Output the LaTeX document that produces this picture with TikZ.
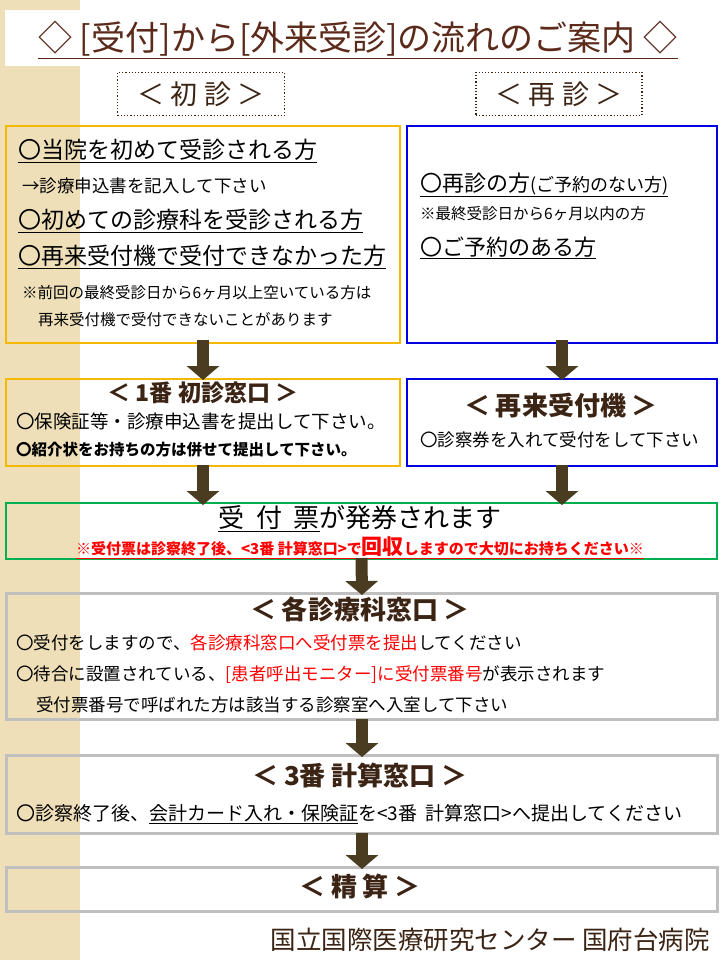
\documentclass[tikz,border=0pt]{standalone}
\usepackage{fontspec}
\setmainfont{Noto Sans CJK JP}
\usetikzlibrary{arrows.meta,positioning}
\definecolor{titlebrown}{HTML}{5C2A1A}
\definecolor{headbrown}{HTML}{3C2414}
\definecolor{arrowbrown}{HTML}{4A3C20}
\definecolor{boxyellow}{HTML}{F5B800}
\definecolor{boxblue}{HTML}{0000E0}
\definecolor{boxgreen}{HTML}{00B050}
\definecolor{boxgray}{HTML}{BFBFBF}
\definecolor{beige}{HTML}{EEDFB8}
\newcommand{\fs}[1]{\fontsize{#1}{#1}\selectfont}
\newcommand{\ul}[1]{\underline{#1}}

\begin{document}
\begin{tikzpicture}[x=1pt,y=-1pt,
  txt/.style={anchor=west,inner sep=0pt,text=black},
  head/.style={inner sep=0pt,text=headbrown,font=\bfseries\fs{26}},
  flowbox/.style={draw,line width=2pt,anchor=north west,inner sep=0pt},
  flow/.style={draw=arrowbrown,line width=12pt,-{Triangle[width=32pt,length=14pt]}},
  red/.style={text=red}]
  \useasboundingbox (0,0) rectangle (720,960);
  \fill[beige] (0,0) rectangle (80,960);     % side strip
  \fill[white] (80,0) rectangle (720,960);
  \fill[white] (5,10) rectangle (720,66);    % title band

  % title and the two columns
  \node[inner sep=0pt,text=titlebrown,font=\fs{34}] (title) at (358,40)
    {\ul{◇ [受付]から[外来受診]の流れのご案内 ◇}};
  \node[draw=headbrown,dotted,line width=1.2pt,minimum width=167pt,minimum height=43pt,
    text=headbrown,font=\fs{27}] (first) at (201,94) {＜ 初 診 ＞};
  \node[draw=headbrown,dotted,line width=1.2pt,minimum width=166pt,minimum height=43pt,
    text=headbrown,font=\fs{27}] (again) at (559,94) {＜ 再 診 ＞};

  % first row
  \node[flowbox,draw=boxyellow,minimum width=394pt,minimum height=217pt] (newbox) at (5,125) {};
  \node[flowbox,draw=boxblue,minimum width=310pt,minimum height=217pt] (backbox) at (406,125) {};
  \node[txt,font=\fs{23}] (n1) at (18,151) {\ul{〇当院を初めて受診される方}};
  \node[txt,font=\fs{17.5}] (n2) at (22,186) {→診療申込書を記入して下さい};
  \node[txt,font=\fs{23}] (n3) at (18,221) {\ul{〇初めての診療科を受診される方}};
  \node[txt,font=\fs{23}] (n4) at (18,257) {\ul{〇再来受付機で受付できなかった方}};
  \node[txt,font=\fs{15.5}] (n5) at (22,293) {※前回の最終受診日から6ヶ月以上空いている方は};
  \node[txt,font=\fs{15.5}] (n6) at (38,320) {再来受付機で受付できないことがあります};
  \node[txt,font=\fs{22}] (b1) at (420,185) {\ul{〇再診の方{\fs{18}(ご予約のない方)}}};
  \node[txt,font=\fs{15.5}] (b2) at (420,214) {※最終受診日から6ヶ月以内の方};
  \node[txt,font=\fs{22}] (b3) at (420,248) {\ul{〇ご予約のある方}};

  % second row
  \node[flowbox,draw=boxyellow,minimum width=394pt,minimum height=87pt] (desk1) at (5,378) {};
  \node[flowbox,draw=boxblue,minimum width=310pt,minimum height=87pt] (machine) at (406,378) {};
  \node[head,font=\bfseries\fs{23}] (d0) at (203,393) {＜ 1番 初診窓口 ＞};
  \node[txt,font=\fs{18.5}] (d1) at (16,421) {〇保険証等・診療申込書を提出して下さい。};
  \node[txt,font=\bfseries\fs{15.5}] (d2) at (16,450) {〇紹介状をお持ちの方は併せて提出して下さい。};
  \node[head] (m0) at (561,406) {＜ 再来受付機 ＞};
  \node[txt,font=\fs{17.5}] (m1) at (420,440) {〇診察券を入れて受付をして下さい};

  % ticket
  \node[flowbox,draw=boxgreen,minimum width=711pt,minimum height=56pt] (ticket) at (5,502) {};
  \node[inner sep=0pt,font=\fs{26}] (t1) at (360,519) {\ul{受\ \ 付\ \ 票}が発券されます};
  \node[inner sep=0pt,red,font=\bfseries\fs{15}] (t2) at (360,548)
    {\ul{※受付票は診察終了後、<3番 計算窓口>で{\fs{21}回収}しますので大切にお持ちください※}};

  % departments
  \node[flowbox,draw=boxgray,line width=3pt,minimum width=711pt,minimum height=126pt] (dept) at (5,592) {};
  \node[head] (c0) at (360,609) {＜ 各診療科窓口 ＞};
  \node[txt,font=\fs{17.5}] (c1) at (16,643) {〇受付をしますので、{\color{red}各診療科窓口へ受付票を提出}してください};
  \node[txt,font=\fs{17.5}] (c2) at (16,675) {〇待合に設置されている、{\color{red}[患者呼出モニター]に受付票番号}が表示されます};
  \node[txt,font=\fs{17.5}] (c3) at (36,705) {受付票番号で呼ばれた方は該当する診察室へ入室して下さい};

  % cashier
  \node[flowbox,draw=boxgray,line width=3pt,minimum width=711pt,minimum height=78pt] (cash) at (5,754) {};
  \node[head] (k0) at (360,776) {＜ 3番 計算窓口 ＞};
  \node[txt,font=\fs{19}] (k1) at (16,814) {〇診察終了後、\ul{会計カード入れ・保険証}を<3番\ \ 計算窓口>へ提出してください};

  % payment
  \node[flowbox,draw=boxgray,line width=3pt,minimum width=711pt,minimum height=44pt] (pay) at (5,866) {};
  \node[head] (p0) at (360,887) {＜ 精 算 ＞};

  \node[anchor=east,inner sep=0pt,text=headbrown,font=\fs{25.5}] (hosp) at (710,940)
    {国立国際医療研究センター 国府台病院};

  % arrows
  \draw[flow] ([yshift=4pt]newbox.south) -- ([yshift=-2pt]desk1.north);
  \draw[flow] ([yshift=4pt]backbox.south) -- ([yshift=-2pt]machine.north);
  \draw[flow] ([yshift=2pt]desk1.south) -- ([yshift=-3pt]desk1.south |- ticket.north);
  \draw[flow] ([yshift=2pt]machine.south) -- ([yshift=-3pt]machine.south |- ticket.north);
  \draw[flow] ([yshift=2pt]ticket.south) -- ([yshift=-3pt]dept.north);
  \draw[flow] ([yshift=2pt]dept.south) -- ([yshift=-3pt]cash.north);
  \draw[flow] ([yshift=2pt]cash.south) -- ([yshift=-3pt]pay.north);
\end{tikzpicture}
\end{document}
